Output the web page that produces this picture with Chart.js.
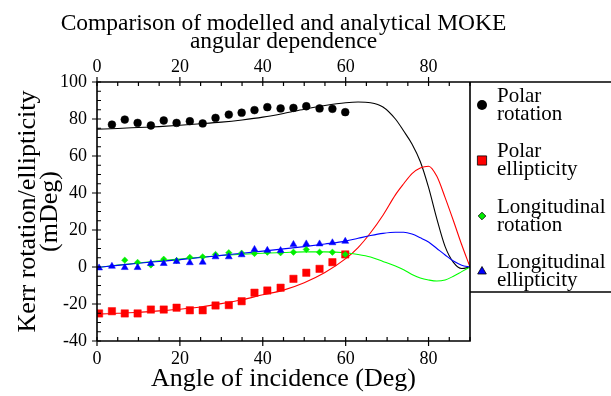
<!DOCTYPE html>
<html>
<head>
<meta charset="utf-8">
<script src="https://cdn.jsdelivr.net/npm/chart.js@4.4.1/dist/chart.umd.min.js"></script>
<style>
  body { margin: 0; background: #fff; }
  #wrap { width: 611px; height: 396px; }
</style>
</head>
<body>
<div id="wrap"><canvas id="chart" width="611" height="396"></canvas></div>
<script>
const FONT = "'Liberation Serif', 'DejaVu Serif', serif";

// measured angles of incidence (deg)
const measAngles = [0.5, 3.6, 6.7, 9.8, 13.0, 16.1, 19.2, 22.4, 25.5, 28.6, 31.8, 34.9, 38.0, 41.1, 44.3, 47.4, 50.5, 53.7, 56.8, 59.9];
const polarRot = [null, 77.0, 79.7, 77.9, 76.5, 79.2, 77.9, 78.8, 77.6, 80.6, 82.4, 83.4, 84.8, 86.4, 85.7, 86.0, 86.9, 85.7, 85.5, 83.7];
const polarEll = [-25.1, -23.9, -25.1, -25.1, -23.0, -23.0, -22.0, -23.4, -23.4, -20.8, -20.6, -18.5, -13.9, -12.7, -11.2, -6.4, -3.1, -1.0, 2.6, 6.8];
const longRot = [null, null, 3.7, 2.5, 1.1, 4.2, 3.5, 5.2, 5.5, 6.8, 7.7, 7.5, 7.3, 8.0, 7.7, 8.0, 9.5, 8.0, 8.0, 6.8];
const longEll = [-0.5, 0.4, -0.3, -0.3, 1.9, 1.9, 3.0, 2.3, 2.6, 5.5, 5.5, 6.6, 9.5, 9.0, 8.9, 12.2, 12.5, 12.5, 13.1, 13.9];

// modelled curves
const modelAngles = [0, 5, 10, 15, 20, 25, 30, 35, 40, 45, 50, 55, 60, 63, 66, 69, 72, 74, 76, 78, 80, 82, 84, 86, 88, 90];
const modelPolarRot = [74.5, 74.9, 75.4, 75.9, 76.6, 77.4, 78.3, 79.5, 81.0, 83.0, 85.3, 87.3, 88.8, 89.2, 88.8, 86.5, 80.0, 73.5, 66.5, 57.0, 43.0, 26.0, 11.0, 2.5, -0.8, 0];
const modelPolarEll = [-25.5, -25.0, -24.5, -23.7, -22.8, -21.6, -19.8, -17.7, -15.0, -12.5, -8.5, -3.0, 4.5, 10.5, 18.5, 28.0, 39.0, 45.0, 50.5, 53.5, 54.5, 49.0, 37.5, 25.0, 12.0, 0];
const modelLongRot = [-0.3, 1.0, 2.2, 3.3, 4.3, 5.3, 6.2, 6.9, 7.4, 7.8, 8.2, 8.2, 7.7, 6.8, 5.4, 3.0, 0.5, -1.5, -4.0, -5.9, -7.0, -7.6, -7.0, -5.0, -2.5, 0];
const modelLongEll = [-0.3, 0.9, 2.0, 3.0, 4.0, 5.1, 6.3, 7.4, 8.6, 9.8, 11.0, 12.4, 14.0, 15.5, 17.0, 18.2, 18.8, 18.8, 17.8, 15.8, 13.5, 10.0, 6.5, 3.2, 1.0, 0];

const xTicks = [0, 20, 40, 60, 80];
const yTicks = [-40, -20, 0, 20, 40, 60, 80, 100];

const toPoints = (xs, ys) => xs.map((x, i) => ({ x, y: ys[i] })).filter((p) => p.y !== null);

const pointSet = (label, ys, color, style, radius, order, legendRadius) => ({
  label,
  data: toPoints(measAngles, ys),
  pointStyle: style,
  pointRadius: radius,
  pointBackgroundColor: color,
  pointBorderColor: color,
  pointBorderWidth: 0.5,
  showLine: false,
  order,
  legendRadius,
});

const lineSet = (ys, color, order) => ({
  label: "",
  data: toPoints(modelAngles, ys),
  borderColor: color,
  borderWidth: 1.1,
  pointRadius: 0,
  showLine: true,
  cubicInterpolationMode: "monotone",
  order,
  isModel: true,
});

//Axis frame with ticks that cross the axis (major) or point inwards (minor)
const framePlugin = {
  id: "frame",
  afterDatasetsDraw(chart) {
    const { ctx, chartArea: a, scales } = chart;
    ctx.save();
    ctx.strokeStyle = "#000";
    ctx.lineWidth = 1.6;
    ctx.beginPath();
    ctx.moveTo(a.left, a.bottom);
    ctx.lineTo(a.left, a.top);
    ctx.lineTo(chart.width, a.top);
    ctx.moveTo(a.left, a.bottom);
    ctx.lineTo(a.right, a.bottom);
    ctx.lineTo(a.right, a.top);
    ctx.stroke();

    ctx.lineWidth = 1.2;
    ctx.beginPath();
    for (let v = 0; v <= 90; v += 5) {
      const px = scales.x.getPixelForValue(v);
      const major = xTicks.includes(v);
      ctx.moveTo(px, a.bottom + (major ? 5 : 0));
      ctx.lineTo(px, a.bottom - 4);
      ctx.moveTo(px, a.top - (major ? 5 : 0));
      ctx.lineTo(px, a.top + 4);
    }
    for (let v = -40; v <= 100; v += 5) {
      const py = scales.y.getPixelForValue(v);
      const major = yTicks.includes(v);
      ctx.moveTo(a.left - (major ? 5 : 0), py);
      ctx.lineTo(a.left + 4, py);
    }
    ctx.stroke();
    ctx.restore();
  },
};

//Boxed legend on the right, two lines of text per entry
const legendPlugin = {
  id: "boxLegend",
  afterDraw(chart) {
    const { ctx, chartArea: a } = chart;
    ctx.save();
    ctx.strokeStyle = "#000";
    ctx.lineWidth = 1.6;
    ctx.beginPath();
    ctx.moveTo(a.right, 292);
    ctx.lineTo(chart.width, 292);
    ctx.stroke();

    const entries = chart.data.datasets.filter((d) => !d.isModel);
    entries.forEach((d, i) => {
      const y = 105 + i * 55.5;
      ctx.fillStyle = d.pointBackgroundColor;
      ctx.strokeStyle = "#000";
      ctx.lineWidth = 0.8;
      Chart.helpers.drawPoint(ctx, {
        pointStyle: d.pointStyle,
        radius: d.legendRadius,
        rotation: 0,
        borderWidth: d.pointStyle === "circle" ? 0 : 0.8,
      }, 482, y);
      ctx.fillStyle = "#000";
      ctx.font = `21px ${FONT}`;
      ctx.textBaseline = "middle";
      ctx.textAlign = "left";
      const words = d.label.split(" ");
      ctx.fillText(words[0], 497, y - 9);
      ctx.fillText(words[1], 497, y + 9);
    });
    ctx.restore();
  },
};

const tickFont = { family: FONT, size: 18 };

new Chart(document.getElementById("chart"), {
  type: "scatter",
  data: {
    datasets: [
      pointSet("Polar rotation", polarRot, "#000000", "circle", 3.9, 3, 5),
      pointSet("Polar ellipticity", polarEll, "#ff0000", "rect", 5.2, 2, 6.5),
      pointSet("Longitudinal rotation", longRot, "#00ee00", "rectRot", 3.2, 1, 3.8),
      pointSet("Longitudinal ellipticity", longEll, "#0000ff", "triangle", 4.0, 0, 5),
      lineSet(modelPolarRot, "#000000", 13),
      lineSet(modelPolarEll, "#ff0000", 12),
      lineSet(modelLongRot, "#00ff00", 11),
      lineSet(modelLongEll, "#0000ff", 10),
    ],
  },
  options: {
    responsive: false,
    animation: false,
    layout: { padding: { left: 0, right: 44, top: 0, bottom: 0 } },
    plugins: {
      legend: { display: false },
      tooltip: { enabled: false },
      title: {
        display: true,
        text: ["Comparison of modelled and analytical MOKE", "angular dependence"],
        color: "#000",
        font: { family: FONT, size: 23.5, weight: "normal", lineHeight: "18px" },
        padding: { top: 15, bottom: 0 },
      },
    },
    scales: {
      x: {
        type: "linear",
        position: "bottom",
        min: 0,
        max: 90,
        grid: { display: false, drawTicks: false },
        border: { display: false },
        ticks: {
          stepSize: 20,
          autoSkip: false,
          maxRotation: 0,
          padding: 7,
          color: "#000",
          font: tickFont,
          callback: (v) => (xTicks.includes(v) ? v : ""),
        },
        title: {
          display: true,
          text: "Angle of incidence (Deg)",
          color: "#000",
          font: { family: FONT, size: 26 },
          padding: { top: 0, bottom: 1 },
        },
        afterFit: (s) => { s.height = 55; },
      },
      x2: {
        type: "linear",
        position: "top",
        min: 0,
        max: 90,
        grid: { display: false, drawTicks: false },
        border: { display: false },
        ticks: {
          stepSize: 20,
          autoSkip: false,
          maxRotation: 0,
          padding: 4,
          color: "#000",
          font: tickFont,
          callback: (v) => (xTicks.includes(v) ? v : ""),
        },
        afterFit: (s) => { s.height = 31; },
      },
      y: {
        type: "linear",
        min: -40,
        max: 100,
        grid: { display: false, drawTicks: false },
        border: { display: false },
        ticks: {
          stepSize: 20,
          padding: 10,
          color: "#000",
          font: tickFont,
        },
        title: {
          display: true,
          text: ["Kerr rotation/ellipticity", "(mDeg)"],
          color: "#000",
          font: { family: FONT, size: 26, lineHeight: "22px" },
          padding: { top: 17, bottom: 0 },
        },
        afterFit: (s) => { s.width = 97; },
      },
      // empty right-hand box: keeps the plot at its place, the legend is drawn into it
      y2: {
        type: "linear",
        position: "right",
        min: -40,
        max: 100,
        grid: { display: false, drawTicks: false },
        border: { display: false },
        ticks: { display: false },
        afterFit: (s) => { s.width = 97; },
      },
    },
  },
  plugins: [framePlugin, legendPlugin],
});
</script>
</body>
</html>
